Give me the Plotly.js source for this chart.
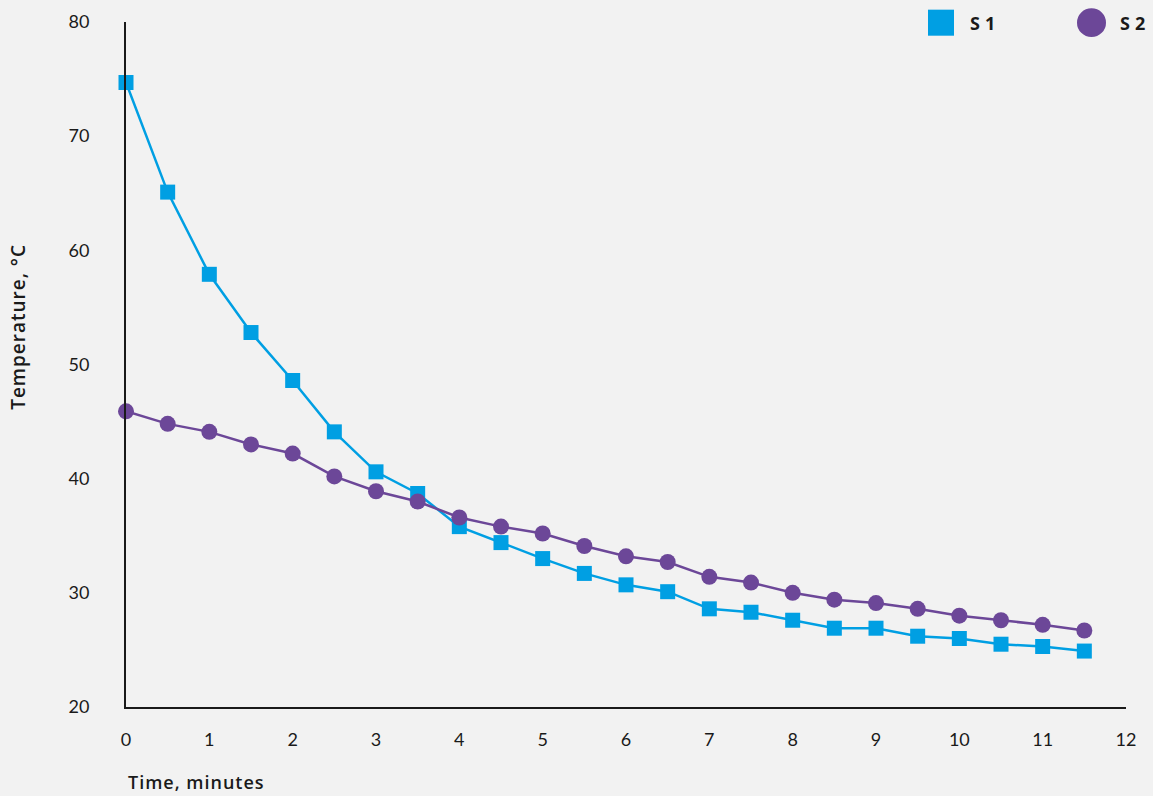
<!DOCTYPE html>
<html>
<head>
<meta charset="utf-8">
<script src="https://cdn.plot.ly/plotly-3.0.1.min.js"></script>
<style>
html,body{margin:0;padding:0;background:#f2f2f2;}
#chart{width:1153px;height:796px;}
.annotation-text{letter-spacing:1px;}
</style>
</head>
<body>
<div id="chart"></div>
<script>
const timeMinutes = [0,0.5,1,1.5,2,2.5,3,3.5,4,4.5,5,5.5,6,6.5,7,7.5,8,8.5,9,9.5,10,10.5,11,11.5];
const s1Values = [74.7,65.1,57.9,52.8,48.6,44.1,40.6,38.7,35.8,34.4,33.0,31.7,30.7,30.1,28.6,28.3,27.6,26.9,26.9,26.2,26.0,25.5,25.3,24.9];
const s2Values = [45.9,44.8,44.1,43.0,42.2,40.2,38.9,38.0,36.6,35.8,35.2,34.1,33.2,32.7,31.4,30.9,30.0,29.4,29.1,28.6,28.0,27.6,27.2,26.7];
const seriesNames = ["S1","S2"];
const xTicks = [0,1,2,3,4,5,6,7,8,9,10,11,12];
const yTicks = [20,30,40,50,60,70,80];
const colS1 = "#009fe3", colS2 = "#6c4798";
const tickFam = "Lato, 'Noto Sans', sans-serif";
const titleFam = "'Open Sans', 'Noto Sans', sans-serif";

const traces = [
  {x: timeMinutes, y: s1Values, name: seriesNames[0], mode: "lines+markers",
   line: {color: colS1, width: 2.5}, marker: {symbol: "square", size: 15, color: colS1},
   cliponaxis: false, showlegend: false},
  {x: timeMinutes, y: s2Values, name: seriesNames[1], mode: "lines+markers",
   line: {color: colS2, width: 2.5}, marker: {symbol: "circle", size: 16, color: colS2},
   cliponaxis: false, showlegend: false}
];

const layout = {
  width: 1153, height: 796,
  paper_bgcolor: "#f2f2f2", plot_bgcolor: "#f2f2f2",
  margin: {l: 126, r: 27, t: 22, b: 89},
  font: {family: tickFam, size: 18, color: "#1a1a1a"},
  showlegend: false,
  xaxis: {range: [0, 12], tickvals: xTicks, showgrid: false, zeroline: false,
    showline: true, linecolor: "#1a1a1a", linewidth: 2, ticks: "",
    ticklabelstandoff: 15, tickfont: {size: 18}},
  yaxis: {range: [20, 80], tickvals: yTicks, showgrid: false, zeroline: false,
    showline: true, linecolor: "#1a1a1a", linewidth: 2, ticks: "",
    ticklabelstandoff: 31, tickfont: {size: 18}},
  shapes: [
    {type: "rect", xref: "paper", yref: "paper", x0: 0.802, x1: 0.828, y0: 0.980, y1: 1.018,
     fillcolor: colS1, line: {width: 0}},
    {type: "circle", xref: "paper", yref: "paper", x0: 0.951, x1: 0.980, y0: 0.978, y1: 1.020,
     fillcolor: colS2, line: {width: 0}}
  ],
  annotations: [
    {text: "S\u20091", xref: "paper", yref: "paper", x: 0.842, y: 0.999, xanchor: "left", yanchor: "middle",
     showarrow: false, font: {family: titleFam, size: 18, weight: 700, color: "#1a1a1a"}},
    {text: "S\u20092", xref: "paper", yref: "paper", x: 0.992, y: 0.999, xanchor: "left", yanchor: "middle",
     showarrow: false, font: {family: titleFam, size: 18, weight: 700, color: "#1a1a1a"}},
    {text: "Time, minutes", xref: "paper", yref: "paper", x: 0, y: -0.1095, xanchor: "left", yanchor: "middle",
     showarrow: false, font: {family: titleFam, size: 18, weight: 600, color: "#1a1a1a"}},
    {text: "Temperature, °C", xref: "paper", yref: "paper", x: -0.108, y: 0.555, xanchor: "center", yanchor: "middle",
     textangle: -90, showarrow: false, font: {family: titleFam, size: 19, weight: 600, color: "#1a1a1a"}}
  ]
};

Plotly.newPlot("chart", traces, layout, {displayModeBar: false, staticPlot: true});
</script>
</body>
</html>
